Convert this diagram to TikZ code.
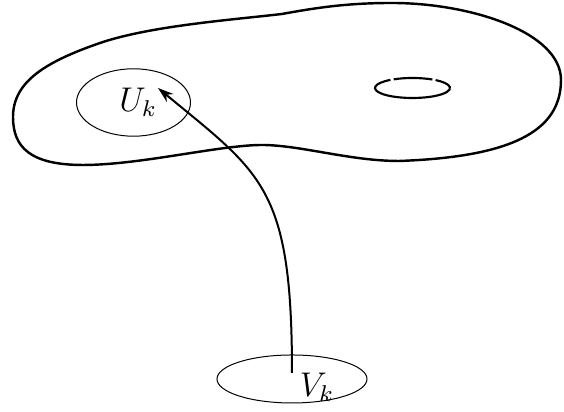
\documentclass[tikz,border=0pt]{standalone}
\usetikzlibrary{shapes.geometric,arrows.meta}
\begin{document}
\begin{tikzpicture}[x=0.35pt,y=0.35pt,
  surface/.style={line width=0.85pt},
  region/.style={draw,ellipse,line width=0.35pt,inner sep=0pt},
  holeline/.style={line width=0.75pt},
  mapline/.style={line width=0.7pt,-{Stealth[length=5.5pt,width=3.6pt]}},
  lbl/.style={inner sep=0pt,font=\large}]
\useasboundingbox (0,0) rectangle (564,412);

% outer surface
\draw[surface] (13,295)
  .. controls (13,330) and (45,350) .. (100,369)
  .. controls (150,386) and (230,392) .. (282,398)
  .. controls (320,405) and (350,409) .. (392,409)
  .. controls (470,409) and (561,380) .. (561,332)
  .. controls (561,280) and (510,255) .. (399,251)
  .. controls (350,251) and (300,267) .. (262,267)
  .. controls (220,267) and (140,247) .. (83,247)
  .. controls (30,247) and (13,265) .. cycle;

% handle hole
\coordinate (hole) at (412.5,324);
\draw[holeline] ([shift={(126:37.5 and 10)}]hole) arc[start angle=126,end angle=412,x radius=37.5,y radius=10];
\draw[holeline] ([shift={(58:37.5 and 10)}]hole) arc[start angle=58,end angle=120,x radius=37.5,y radius=10];

% the two regions
\node[region,minimum width=39.9pt,minimum height=23.6pt] (Uk) at (133.5,309.5) {};
\node[lbl] (Uklabel) at (138,310) {$U_k$};
\node[region,minimum width=52.5pt,minimum height=16.8pt] (Vk) at (292,33) {};
\node[lbl] (Vklabel) at (317,25) {$V_k$};

% the map
\coordinate (start) at (292,39);
\coordinate (tip) at (158,324);
\draw[mapline] (start) .. controls (292,225) and (262,238) .. (tip);
\end{tikzpicture}
\end{document}
